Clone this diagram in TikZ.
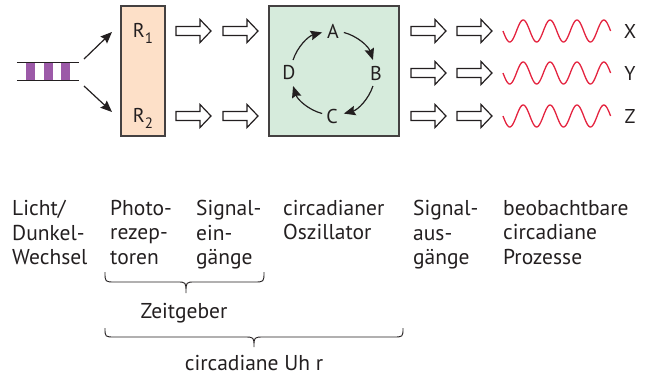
\documentclass[tikz,border=0pt]{standalone}
\usepackage{fontspec}
\setmainfont{PT Sans}
\usetikzlibrary{arrows.meta}
\definecolor{peach}{HTML}{FDE0C8}
\definecolor{mint}{HTML}{D6EBDC}
\definecolor{stripe}{HTML}{9C5AA8}
\definecolor{wavered}{HTML}{E4233F}
\definecolor{ink}{HTML}{231F20}
\tikzset{
  boxstyle/.style={draw=ink!85, line width=1.2pt, inner sep=0pt},
  lbl/.style={text=ink, font=\fontsize{20}{22}\selectfont, inner sep=0pt},
  col/.style={text=ink, font=\fontsize{21.5}{24.5}\selectfont, align=left, anchor=north west, inner sep=0pt},
  blackarrow/.style={draw=ink, line width=1.2pt, -{Stealth[length=11.5pt,width=9.5pt,inset=1.5pt]}},
  wave/.style={draw=wavered, line width=1.3pt},
  bracestyle/.style={draw=ink, line width=0.9pt},
  pics/hollow/.style={code={
    \draw[ink, line width=1.2pt, fill=white, line join=miter]
      (0,-4.5) -- (24,-4.5) -- (24,-11.5) -- (35,0) -- (24,11.5) -- (24,4.5) -- (0,4.5) -- cycle;}}
}
\begin{document}
\begin{tikzpicture}[x=1pt,y=-1pt]
\useasboundingbox (0,0) rectangle (646,376);
% light/dark strip
\node[inner sep=0pt, minimum width=62pt, minimum height=17pt] (strip) at (48,71.5) {};
\foreach \xa in {26,44,61} \fill[stripe] (\xa,63) rectangle ++(9,17);
\draw[ink, line width=1pt] (strip.north west) -- (strip.north east);
\draw[ink, line width=1pt] (strip.south west) -- (strip.south east);
\coordinate (s1) at (84,59);
\coordinate (s2) at (84,86);
\coordinate (r1in) at (112,32);
\coordinate (r2in) at (112,112);
\draw[blackarrow] (s1) -- (r1in);
\draw[blackarrow] (s2) -- (r2in);
% photoreceptor box
\node[boxstyle, fill=peach, minimum width=44pt, minimum height=130pt] (R) at (143,71) {};
\node[lbl] (R1) at (143,33) {R\raisebox{-0.3em}{\fontsize{15}{15}\selectfont 1}};
\node[lbl] (R2) at (143,118) {R\raisebox{-0.3em}{\fontsize{15}{15}\selectfont 2}};
% hollow arrows to oscillator
\pic at (176,31) {hollow};
\pic at (223,31) {hollow};
\pic at (176,116) {hollow};
\pic at (223,116) {hollow};
% oscillator
\node[boxstyle, fill=mint, minimum width=130pt, minimum height=130pt] (osc) at (334,71) {};
\coordinate (c) at (333,73);
\node[lbl] (A) at (333,31) {A};
\node[lbl] (B) at (376,73) {B};
\node[lbl] (C) at (332,116) {C};
\node[lbl] (D) at (289,73) {D};
\draw[blackarrow] ([shift={(-162:42)}]c) arc[start angle=-162, end angle=-105, radius=42];
\draw[blackarrow] ([shift={(-75:42)}]c) arc[start angle=-75, end angle=-18, radius=42];
\draw[blackarrow] ([shift={(18:42)}]c) arc[start angle=18, end angle=75, radius=42];
\draw[blackarrow] ([shift={(105:42)}]c) arc[start angle=105, end angle=162, radius=42];
% output hollow arrows
\foreach \yy in {31,73,116} {
  \pic at (411,\yy) {hollow};
  \pic at (457,\yy) {hollow};
  \draw[wave] plot[domain=0:107.6, samples=120, smooth] ({503+\x}, {\yy + 11*sin(13.3829*\x)});
}
\node[lbl] (X) at (630,31) {X};
\node[lbl] (Y) at (630,73) {Y};
\node[lbl] (Z) at (630,116) {Z};
% bottom text columns
\node[col] (t1) at (12,200) {Licht/\\Dunkel-\\Wechsel};
\node[col] (t2) at (110,200) {Photo-\\rezep-\\toren};
\node[col] (t3) at (196,200) {Signal-\\ein-\\gänge};
\node[col] (t4) at (283,200) {circadianer\\Oszillator};
\node[col] (t5) at (413,200) {Signal-\\aus-\\gänge};
\node[col] (t6) at (503,200) {beobachtbare\\circadiane\\Prozesse};
% braces
\draw[bracestyle] (105,272) .. controls (105,282) .. (115,282) -- (177,282) .. controls (186,282) .. (186,293)
  .. controls (186,282) .. (195,282) -- (254,282) .. controls (264,282) .. (264,272);
\node[col, anchor=base] (zg) at (184,318) {Zeitgeber};
\draw[bracestyle] (105,328) .. controls (105,337) .. (115,337) -- (244,337) .. controls (254,337) .. (254,347)
  .. controls (254,337) .. (264,337) -- (393,337) .. controls (403,337) .. (403,328);
\node[col, anchor=base] (uhr) at (254,370) {circadiane Uh r};
\end{tikzpicture}
\end{document}
